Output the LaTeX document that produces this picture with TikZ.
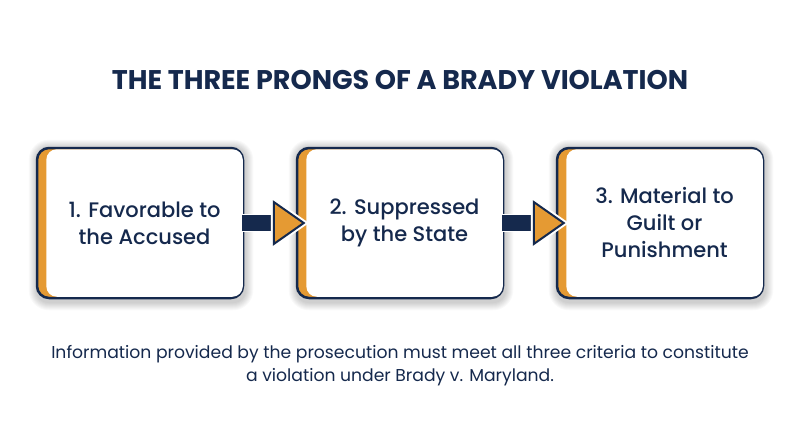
\documentclass[tikz,border=0pt]{standalone}
\usepackage{fontspec}
\setmainfont{Poppins}
\newfontfamily\medfont{Poppins Medium}
\usetikzlibrary{positioning,backgrounds,calc}
\definecolor{navy}{HTML}{15294D}
\definecolor{amber}{HTML}{E59A33}
\tikzset{
  prong/.style={draw=navy, line width=2.5pt, fill=amber, rounded corners=12pt,
    minimum width=206pt, minimum height=150pt},
  card/.style={fill=white, rounded corners=10.5pt, minimum width=196.5pt, minimum height=147.5pt,
    inner sep=0pt, text=navy, align=center, font=\medfont\fontsize{21}{27}\selectfont},
  shaft/.style={fill=navy, draw=white, line width=1.2pt},
  head/.style={fill=amber, draw=navy, line width=2pt, preaction={draw=white, line width=6pt}}
}
\begin{document}
\begin{tikzpicture}[x=1pt, y=-1pt]
  \useasboundingbox (0,0) rectangle (800,447);

  \node[text=navy, font=\bfseries\fontsize{27}{30}\selectfont] (title) at (400,80) {THE THREE PRONGS OF A BRADY VIOLATION};

  % the three prongs
  \node[prong] (b1) at (140,223) {};
  \node[card, anchor=east] (c1) at ([xshift=-1.25pt]b1.east) {1. Favorable to\\the Accused};
  \node[prong] (b2) at (400,223) {};
  \node[card, anchor=east] (c2) at ([xshift=-1.25pt]b2.east) {2. Suppressed\\by the State};
  \node[prong] (b3) at (660,223) {};
  \node[card, anchor=east] (c3) at ([xshift=-1.25pt]b3.east) {3. Material to\\Guilt or\\Punishment};

  % soft shadows
  \begin{scope}[on background layer]
    \fill[white] (0,0) rectangle (800,447);
    \foreach \b in {b1,b2,b3}
      \foreach \s in {1,...,8}
        \fill[black, opacity=0.022, rounded corners=12+\s]
          ([xshift=-\s pt+1pt, yshift=\s pt-1pt]\b.north west) rectangle ([xshift=\s pt+1pt, yshift=-\s pt-3pt]\b.south east);
  \end{scope}

  % arrows between prongs
  \foreach \a/\b in {b1/b2, b2/b3}{
    \draw[shaft] ([xshift=-3pt, yshift=-8.5pt]\a.east) rectangle ([xshift=-18pt, yshift=8.5pt]\b.west);
    \draw[head] ([xshift=8pt]\b.west) -- ([xshift=-22pt, yshift=21pt]\b.west) -- ([xshift=-22pt, yshift=-21pt]\b.west) -- cycle;
  }

  \node[text=navy, align=center, font=\fontsize{17.2}{23}\selectfont] (note) at (400,366)
    {Information provided by the prosecution must meet all three criteria to constitute\\a violation under Brady v. Maryland.};
\end{tikzpicture}
\end{document}
